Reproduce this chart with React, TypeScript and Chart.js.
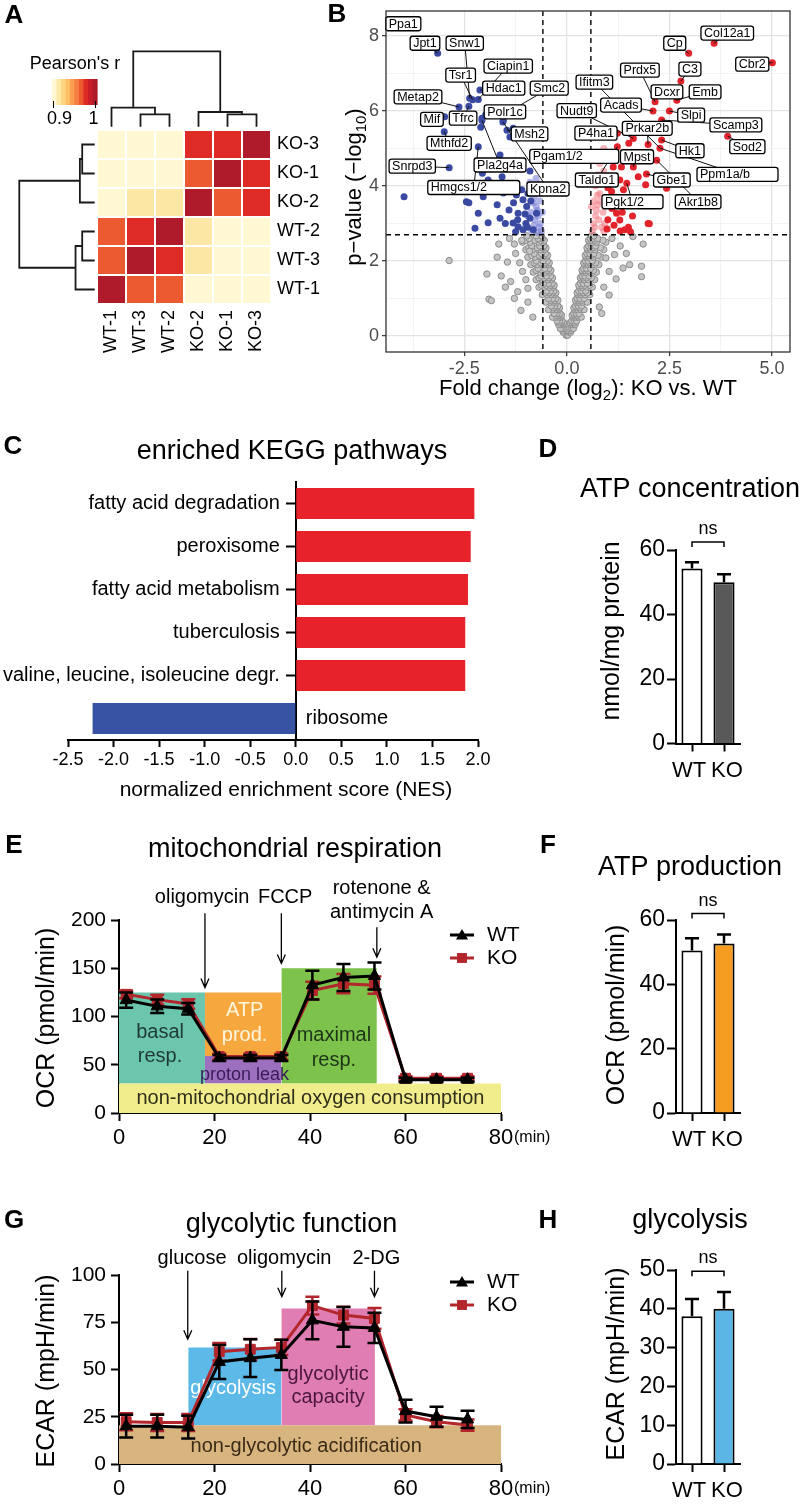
import React, { useEffect, useRef } from 'react';
import { Chart, registerables } from 'chart.js';

Chart.register(...registerables);

const FONT = '"Liberation Sans", Arial, Helvetica, sans-serif';
Chart.defaults.font.family = FONT;
Chart.defaults.color = '#000';

// ================= Panel A: sample correlation heatmap =================
const heatRows = ['KO-3', 'KO-1', 'KO-2', 'WT-2', 'WT-3', 'WT-1'];
const heatCols = ['WT-1', 'WT-3', 'WT-2', 'KO-2', 'KO-1', 'KO-3'];
const heatValues = [
  [0.905, 0.905, 0.905, 0.975, 0.975, 1.0],
  [0.905, 0.905, 0.905, 0.965, 1.0, 0.975],
  [0.905, 0.915, 0.915, 1.0, 0.965, 0.975],
  [0.965, 0.975, 1.0, 0.915, 0.905, 0.905],
  [0.965, 1.0, 0.975, 0.915, 0.905, 0.905],
  [1.0, 0.965, 0.965, 0.905, 0.905, 0.905],
];
const heatPalette = ['#fff8d2', '#fde7a4', '#fdd583', '#fdbd67', '#fc9d50', '#f77e40', '#ec5a31', '#de2b26', '#c81e27', '#b01b2b'];
const colorbarLabels = ['0.9', '1'];
// linkage: [childA, childB, height]; leaves 0..5 in display order, merges numbered from 6
const colLinkage = [[1, 2, 0.43], [4, 5, 0.43], [3, 7, 0.51], [0, 6, 0.66], [9, 8, 2.6]];
const rowLinkage = [[0, 1, 0.43], [3, 4, 0.43], [6, 2, 0.51], [7, 5, 0.66], [8, 9, 2.6]];

// ================= Panel B: volcano plot =================
const volcanoXTicks = [-3.75, -2.5, -1.25, 0, 1.25, 2.5, 3.75, 5];
const volcanoYTicks = [0, 1, 2, 3, 4, 5, 6, 7, 8];
const foldThreshold = 0.585;
const pThreshold = 2.7;
// rows: [p-value, fold changes...]
const grayRows = [
  [0.02, -0.02, 0.0, 0.02],
  [0.1, -0.05, -0.09, 0.05, 0.09],
  [0.15, -0.04, -0.1, 0.04, 0.1],
  [0.2, -0.07, -0.12, -0.16, 0.07, 0.12, 0.16],
  [0.3, -0.1, -0.15, -0.2, 0.1, 0.15, 0.2],
  [0.35, -0.08, -0.13, -0.18, 0.08, 0.13, 0.18],
  [0.4, -0.12, -0.18, -0.24, 0.12, 0.18, 0.24],
  [0.5, -0.15, -0.21, -0.28, -0.35, 0.15, 0.21, 0.28, 0.35],
  [0.55, -0.13, -0.19, -0.26, 0.13, 0.19, 0.25],
  [0.6, -0.17, -0.24, -0.31, 0.17, 0.23, 0.3],
  [0.7, -0.2, -0.27, -0.36, -0.45, 0.19, 0.26, 0.34, 0.42],
  [0.75, -0.18, -0.25, -0.33, 0.17, 0.24, 0.31],
  [0.8, -0.22, -0.3, -0.38, 0.21, 0.28, 0.36],
  [0.9, -0.25, -0.33, -0.42, -0.52, 0.23, 0.3, 0.39, 0.5],
  [0.95, -0.22, -0.3, -0.39, 0.21, 0.28, 0.36],
  [1.0, -0.27, -0.35, -0.45, 0.25, 0.32, 0.42],
  [1.1, -0.3, -0.38, -0.48, -0.6, 0.27, 0.34, 0.44, 0.56],
  [1.15, -0.27, -0.35, -0.44, -0.53, 0.25, 0.32, 0.4, 0.5],
  [1.2, -0.32, -0.4, -0.5, 0.29, 0.36, 0.46],
  [1.3, -0.34, -0.43, -0.55, -0.68, 0.31, 0.38, 0.48, 0.62],
  [1.35, -0.31, -0.4, -0.5, -0.62, 0.29, 0.36, 0.44, 0.55],
  [1.4, -0.36, -0.45, -0.57, 0.33, 0.4, 0.5],
  [1.5, -0.38, -0.47, -0.6, -0.75, 0.35, 0.42, 0.52, 0.68],
  [1.55, -0.35, -0.44, -0.55, -0.68, 0.33, 0.4, 0.48, 0.6],
  [1.6, -0.4, -0.5, -0.63, 0.37, 0.44, 0.54],
  [1.7, -0.42, -0.52, -0.66, -0.82, 0.39, 0.46, 0.56, 0.72],
  [1.75, -0.39, -0.48, -0.6, -0.75, 0.37, 0.44, 0.52, 0.65],
  [1.8, -0.44, -0.54, -0.7, 0.41, 0.48, 0.58],
  [1.9, -0.46, -0.56, -0.72, -0.88, 0.43, 0.5, 0.6, 0.78],
  [1.95, -0.43, -0.52, -0.64, -0.8, 0.41, 0.48, 0.56, 0.7],
  [2.0, -0.48, -0.58, -0.75, 0.45, 0.52, 0.62],
  [2.1, -0.5, -0.6, -0.78, -0.95, 0.47, 0.54, 0.64, 0.84],
  [2.15, -0.47, -0.56, -0.68, -0.86, 0.45, 0.52, 0.6, 0.76],
  [2.2, -0.52, -0.62, -0.8, 0.49, 0.56, 0.66],
  [2.3, -0.54, -0.64, -0.84, -1.0, 0.51, 0.58, 0.68, 0.9],
  [2.35, -0.51, -0.6, -0.72, -0.93, 0.49, 0.56, 0.64, 0.82],
  [2.4, -0.56, -0.66, -0.86, 0.53, 0.6, 0.7],
  [2.5, -0.58, -0.68, -0.9, -1.08, 0.55, 0.62, 0.72, 0.95],
  [2.55, -0.55, -0.64, -0.78, -1.0, 0.53, 0.6, 0.68, 0.88],
  [2.6, -0.6, -0.7, -0.92, 0.57, 0.64, 0.75],
  [2.67, -0.62, -0.75, -0.98, 0.6, 0.66],
];
const grayScatter = [
  [-2.87, 2.01], [-1.95, 1.65], [-1.9, 0.98], [-1.84, 0.94], [-1.7, 2.1], [-1.45, 1.97], [-1.66, 2.45], [-1.28, 2.45],
  [-1.12, 0.68], [-0.83, 0.5], [-1.37, 1.45], [-1.2, 1.18], [-0.95, 1.27], [-1.08, 1.72], [-0.91, 2.26], [-1.28, 1.0],
  [-1.5, 1.3], [-1.25, 2.2], [-1.0, 1.5], [-1.15, 1.95], [-0.95, 0.9], [-1.4, 2.6], [-1.6, 1.6], [-1.1, 2.55],
  [1.86, 2.45], [1.82, 1.86], [1.82, 1.58], [1.61, 2.65], [1.53, 1.9], [1.2, 1.52], [1.03, 1.09], [0.79, 0.77],
  [1.37, 1.81], [0.95, 2.08], [1.16, 2.17], [1.03, 1.72], [1.3, 2.4], [0.9, 1.3], [1.1, 2.6], [0.85, 0.6], [1.45, 2.2],
];
const bluePoints = [
  [-3.15, 7.54], [-3.95, 8.25], [-2.37, 6.34], [-2.3, 6.3], [-2.16, 6.31], [-2.12, 6.56], [-2.63, 6.11], [-2.39, 6.13],
  [-2.98, 5.85], [-2.99, 5.45], [-2.07, 5.81], [-2.1, 5.57], [-1.46, 5.49], [-1.31, 5.54], [-1.39, 5.31], [-2.16, 5.05],
  [-1.63, 4.83], [-2.87, 4.49], [-3.97, 3.71], [-1.58, 4.25], [-0.9, 4.4], [-1.98, 5.9], [-1.56, 5.71], [-1.55, 5.75],
  [-1.4, 5.99], [-2.07, 5.75], [-2.45, 3.58], [-2.39, 3.55], [-2.16, 3.27], [-2.04, 3.71], [-2.24, 2.87], [-1.92, 3.02],
  [-1.63, 3.14], [-1.41, 3.36], [-1.55, 3.81], [-1.23, 3.76], [-1.07, 3.63], [-0.98, 3.45], [-1.19, 3.27], [-1.31, 3.01],
  [-1.19, 2.91], [-1.07, 2.83], [-0.9, 3.14], [-0.82, 2.83], [-0.74, 3.27], [-1.39, 3.98], [-1.92, 4.16], [-2.06, 4.34],
  [-1.2, 3.1], [-1.0, 3.0], [-1.1, 3.9], [-0.95, 3.8], [-1.3, 3.55], [-1.5, 3.0], [-1.7, 3.5], [-1.02, 3.25],
  [-0.88, 3.6], [-1.25, 2.78], [-0.96, 2.9],
];
const lightBluePoints = [
  [-0.62, 2.8], [-0.65, 3.0], [-0.7, 3.2], [-0.75, 3.45], [-0.8, 3.7], [-0.85, 3.95], [-0.68, 2.9], [-0.72, 3.35],
  [-0.78, 3.1], [-0.82, 3.55], [-0.88, 3.3], [-0.66, 3.6], [-0.7, 2.75], [-0.9, 4.1], [-0.75, 4.2], [-0.8, 2.95],
  [-0.95, 3.2], [-0.63, 3.8], [-0.6, 3.3], [-0.73, 3.85], [-0.67, 4.05], [-0.86, 2.82],
];
const redPoints = [
  [3.59, 7.81], [2.97, 7.54], [5.01, 7.29], [2.78, 6.8], [2.68, 6.29], [2.15, 6.25], [2.1, 6.0], [2.5, 6.0],
  [3.92, 5.33], [2.31, 5.76], [1.62, 5.27], [1.51, 5.14], [1.98, 5.11], [2.31, 5.23], [2.27, 5.01], [1.23, 5.05],
  [1.17, 4.78], [1.13, 4.51], [1.33, 4.51], [1.29, 4.16], [1.46, 4.07], [1.94, 4.32], [1.92, 4.03], [1.74, 4.25],
  [2.43, 3.94], [2.19, 4.69], [1.62, 4.51], [1.98, 3.0], [1.21, 3.27], [1.29, 3.09], [1.41, 2.83], [1.09, 3.85],
  [1.05, 3.63], [1.25, 3.54], [1.23, 5.41], [1.0, 3.1], [1.15, 2.95], [1.3, 2.8], [1.5, 2.9], [1.35, 3.3],
  [1.1, 3.4], [1.45, 3.6], [1.6, 3.2], [1.2, 3.7], [1.0, 3.95], [1.38, 3.9], [1.55, 2.78], [0.98, 2.85], [2.01, 2.99],
];
const pinkPoints = [
  [0.62, 2.8], [0.65, 3.0], [0.7, 3.2], [0.75, 3.5], [0.8, 3.8], [0.85, 4.1], [0.9, 4.4], [0.95, 4.7],
  [0.68, 2.9], [0.72, 3.35], [0.78, 3.1], [0.82, 3.6], [0.88, 3.3], [0.92, 3.0], [0.66, 3.6], [0.7, 4.0],
  [0.9, 2.8], [0.76, 4.3], [0.85, 2.9], [0.95, 3.5], [0.8, 4.6], [0.9, 5.0], [0.6, 3.45], [0.74, 3.75], [0.98, 4.2],
];
// [gene, label x, label y, point x, point y, min box width]
const volcanoLabels: [string, number, number, number, number, number?][] = [
  ['Ppa1', -3.99, 8.33, -3.95, 8.25],
  ['Jpt1', -3.46, 7.81, -3.15, 7.54],
  ['Snw1', -2.49, 7.81, -2.37, 6.34],
  ['Tsr1', -2.59, 6.96, -2.3, 6.3],
  ['Ciapin1', -1.43, 7.2, -2.16, 6.31],
  ['Hdac1', -1.54, 6.61, -2.12, 6.56],
  ['Smc2', -0.43, 6.61, -1.4, 5.99],
  ['Metap2', -3.63, 6.38, -2.63, 6.11],
  ['Polr1c', -1.51, 5.98, -1.98, 5.9],
  ['Mif', -3.29, 5.78, -2.98, 5.85],
  ['Tfrc', -2.53, 5.81, -2.39, 6.13],
  ['Msh2', -0.91, 5.39, -1.46, 5.49],
  ['Mthfd2', -2.87, 5.14, -2.99, 5.45],
  ['Snrpd3', -3.77, 4.53, -2.87, 4.49],
  ['Pla2g4a', -1.63, 4.56, -2.07, 5.75],
  ['Hmgcs1/2', -2.27, 3.96, -2.16, 5.05, 92],
  ['Kpna2', -0.46, 3.92, -1.56, 5.71],
  ['Pgam1/2', 0.18, 4.79, 1.17, 4.78, 89],
  ['Col12a1', 3.91, 8.08, 3.59, 7.81],
  ['Cp', 2.63, 7.81, 2.97, 7.54],
  ['Cbr2', 4.52, 7.25, 5.01, 7.29],
  ['Prdx5', 1.78, 7.09, 2.15, 6.25],
  ['C3', 3.0, 7.12, 2.78, 6.8],
  ['Ifitm3', 0.67, 6.77, 2.27, 5.01],
  ['Dcxr', 2.44, 6.51, 2.68, 6.29],
  ['Emb', 3.37, 6.51, 2.68, 6.29],
  ['Acads', 1.32, 6.16, 2.1, 6.0],
  ['Nudt9', 0.24, 6.01, 1.62, 5.27],
  ['Slpi', 3.03, 5.89, 2.5, 6.0],
  ['Scamp3', 4.12, 5.63, 2.31, 5.76],
  ['Sod2', 4.4, 5.05, 3.92, 5.33],
  ['P4ha1', 0.71, 5.41, 1.23, 5.41],
  ['Prkar2b', 1.96, 5.54, 1.98, 5.11],
  ['Hk1', 3.0, 4.94, 2.31, 5.23],
  ['Mpst', 1.71, 4.78, 1.62, 4.51],
  ['Ppm1a/b', 4.16, 4.31, 2.27, 5.01, 81],
  ['Taldo1', 0.73, 4.16, 1.23, 5.05],
  ['Gbe1', 2.56, 4.16, 1.94, 4.32],
  ['Pgk1/2', 1.6, 3.58, 1.46, 4.07, 61],
  ['Akr1b8', 3.2, 3.58, 2.19, 4.69],
];

// ================= Panel C: KEGG =================
const keggPathways = ['fatty acid degradation', 'peroxisome', 'fatty acid metabolism', 'tuberculosis', 'valine, leucine, isoleucine degr.', 'ribosome'];
const keggNES = [1.96, 1.92, 1.89, 1.86, 1.86, -2.23];

// ================= Panels D, F, H =================
const groups = ['WT', 'KO'];
const atpConc = [54.3, 50.0];
const atpConcErr = [1.9, 2.5];
const atpProd = [50.5, 52.7];
const atpProdErr = [3.8, 2.8];
const glycolysis = [38.1, 40.0];
const glycolysisErr = [4.4, 4.3];

// ================= Panels E, G: Seahorse traces =================
const seahorseTimes = [1.5, 8, 14.5, 21, 27.5, 34, 40.5, 47, 53.5, 60, 66.5, 73];
const ocrWT = [117, 110.5, 108, 57, 57, 57, 132.5, 140.5, 142, 34.5, 34.5, 34.5];
const ocrKO = [123, 117.5, 113, 58.5, 58.5, 58.5, 127, 134, 132.5, 36, 36, 36];
const ocrWTErr = [8, 7, 6, 3, 3, 3, 15, 14, 14, 2, 2, 2];
const ocrKOErr = [4, 5, 5, 3, 3, 3, 9, 10, 9, 2, 2, 2];
const ecarWT = [20, 20, 19.5, 54, 56, 57.7, 76, 72.6, 72, 28, 25, 23.6];
const ecarKO = [22.4, 22, 22, 59.4, 60.7, 61.7, 83.8, 78.8, 77, 26, 22.4, 20.6];
const ecarWTErr = [6, 6, 6, 9, 10, 8, 10, 10.5, 8, 6, 5.3, 4.6];
const ecarKOErr = [4.5, 4.5, 4.5, 4.6, 5.5, 4, 4.7, 4.4, 5.5, 3, 3, 3];

const ocrRegionX0 = [0, 0, 18, 18, 34];
const ocrRegionX1 = [80, 18, 34, 34, 54];
const ocrRegionY0 = [0, 30.5, 59, 30.5, 30.5];
const ocrRegionY1 = [30.5, 125, 125, 59, 150];
const ocrInjections = ['oligomycin', 'FCCP', 'rotenone &|antimycin A'];
const ocrInjectAt = [18, 34, 54];
const ocrArrowSpan = [[207, 130], [207, 155], [192.5, 161.5]];

const ecarRegionX0 = [0, 14.5, 34];
const ecarRegionX1 = [80, 34, 53.6];
const ecarRegionY0 = [0, 20.5, 20.5];
const ecarRegionY1 = [20.5, 61.7, 82.3];
const ecarInjections = ['glucose', 'oligomycin', '2-DG'];
const ecarInjectAt = [14.4, 34.1, 53.5];
const ecarArrowSpan = [[102.3, 66], [102.3, 88.5], [102.3, 88.5]];

const KO_RED = '#b3262c';

// ================= helpers =================
type Part = [string, boolean];
interface Txt { t?: string; parts?: Part[]; x: number; y: number; size: number; bold?: boolean; rot?: boolean; align?: string; color?: string }

function drawText(ctx: CanvasRenderingContext2D, it: Txt) {
  const parts: Part[] = it.parts || [[it.t || '', false]];
  ctx.save();
  ctx.translate(it.x, it.y);
  if (it.rot) ctx.rotate(-Math.PI / 2);
  ctx.fillStyle = it.color || '#000';
  ctx.textBaseline = 'middle';
  ctx.textAlign = 'left';
  const font = (sub: boolean) => `${it.bold ? 'bold ' : ''}${sub ? Math.round(it.size * 0.68) : it.size}px ${FONT}`;
  const widths = parts.map(([s, sub]) => { ctx.font = font(sub); return ctx.measureText(s).width; });
  const total = widths.reduce((a, b) => a + b, 0);
  let x = it.align === 'left' ? 0 : it.align === 'right' ? -total : -total / 2;
  parts.forEach(([s, sub], i) => { ctx.font = font(sub); ctx.fillText(s, x, sub ? it.size * 0.3 : 0); x += widths[i]; });
  ctx.restore();
}
const textPlugin = (items: Txt[]) => ({ id: 'texts', afterDraw(chart: any) { items.forEach((it) => drawText(chart.ctx, it)); } });

const fit = (w?: number, h?: number) => (s: any) => {
  if (w !== undefined) s.width = w;
  if (h !== undefined) s.height = h;
  s.paddingLeft = 0; s.paddingRight = 0; s.paddingTop = 0; s.paddingBottom = 0;
};
const base = (padding: any) => ({
  responsive: false,
  animation: false as const,
  events: [] as any[],
  layout: { padding, autoPadding: false },
  plugins: { legend: { display: false }, tooltip: { enabled: false } },
});

function dendro(link: number[][], n: number) {
  const pos: number[] = []; const hgt: number[] = [];
  for (let i = 0; i < n; i++) { pos[i] = i; hgt[i] = 0; }
  const segs: { p: number; h: number }[][] = [];
  link.forEach(([a, b, h], k) => {
    segs.push([{ p: pos[a], h: hgt[a] }, { p: pos[a], h }, { p: pos[b], h }, { p: pos[b], h: hgt[b] }]);
    pos[n + k] = (pos[a] + pos[b]) / 2; hgt[n + k] = h;
  });
  return segs;
}
const heatColor = (v: number) => heatPalette[Math.min(heatPalette.length - 1, Math.max(0, Math.floor((v - 0.9) / 0.01 + 1e-6)))];

// ================= chart builders =================
function makeA(cv: HTMLCanvasElement) {
  const cells: any[] = []; const colors: string[] = [];
  heatValues.forEach((row, r) => row.forEach((v, c) => { cells.push({ x: c, y: r }); colors.push(heatColor(v)); }));
  const TOP_TIP = -0.61; const LEFT_TIP = -0.58;
  const lineDs = (pts: any[]) => ({ data: pts, showLine: true, borderColor: '#1a1a1a', borderWidth: 1.8, pointRadius: 0, tension: 0, fill: false });
  const datasets: any[] = [
    { data: cells, pointStyle: 'rect', pointRadius: 19.1, pointHoverRadius: 19.1, pointBackgroundColor: colors, pointBorderWidth: 0 },
    ...dendro(colLinkage, 6).map((seg) => lineDs(seg.map((p) => ({ x: p.p, y: TOP_TIP - p.h })))),
    ...dendro(rowLinkage, 6).map((seg) => lineDs(seg.map((p) => ({ x: LEFT_TIP - p.h, y: p.p })))),
  ];
  const heatPlugin = {
    id: 'heat',
    afterDraw(chart: any) {
      const { ctx, scales: { x, y } } = chart;
      ctx.save();
      ctx.fillStyle = '#000'; ctx.font = `18px ${FONT}`; ctx.textBaseline = 'middle'; ctx.textAlign = 'left';
      heatRows.forEach((n, r) => ctx.fillText(n, x.getPixelForValue(5.5) + 6, y.getPixelForValue(r)));
      heatCols.forEach((n, c) => {
        ctx.save(); ctx.translate(x.getPixelForValue(c), y.getPixelForValue(5.5) + 6); ctx.rotate(-Math.PI / 2);
        ctx.textAlign = 'right'; ctx.fillText(n, 0, 0); ctx.restore();
      });
      const bx0 = 52, bx1 = 97, by0 = 79, by1 = 105;
      const bw = (bx1 - bx0) / heatPalette.length;
      heatPalette.forEach((c, i) => { ctx.fillStyle = c; ctx.fillRect(bx0 + i * bw, by0, bw + 0.6, by1 - by0); });
      ctx.strokeStyle = '#000'; ctx.lineWidth = 1;
      [bx0 + 1.5, bx1 - 1.5].forEach((px) => { ctx.beginPath(); ctx.moveTo(px, by1 - 4); ctx.lineTo(px, by1 + 3); ctx.stroke(); });
      ctx.restore();
      drawText(ctx, { t: 'A', x: 14, y: 16, size: 26, bold: true });
      drawText(ctx, { t: "Pearson's r", x: 75, y: 64, size: 18 });
      drawText(ctx, { t: colorbarLabels[0], x: 59.5, y: 119, size: 18 });
      drawText(ctx, { t: colorbarLabels[1], x: 93.5, y: 119, size: 18 });
    },
  };
  return new Chart(cv, {
    type: 'scatter',
    data: { datasets },
    options: {
      ...base(0),
      scales: {
        // 29 px per cell; canvas is 320 x 372
        x: { type: 'linear', display: false, min: -3.845, max: 7.19 },
        y: { type: 'linear', display: false, reverse: true, min: -4.983, max: 7.845 },
      },
    } as any,
    plugins: [heatPlugin],
  });
}

function makeB(cv: HTMLCanvasElement) {
  const toXY = (a: number[][]) => a.map(([x, y]) => ({ x, y }));
  const grayPts = [...grayRows.flatMap(([y, ...xs]) => xs.map((x) => ({ x, y }))), ...toXY(grayScatter)];
  const isMajor = (v: number, step: number) => Math.abs(v / step - Math.round(v / step)) < 1e-6;
  const rr = (ctx: any, x: number, y: number, w: number, h: number, r: number) => {
    ctx.beginPath(); ctx.moveTo(x + r, y); ctx.lineTo(x + w - r, y); ctx.quadraticCurveTo(x + w, y, x + w, y + r);
    ctx.lineTo(x + w, y + h - r); ctx.quadraticCurveTo(x + w, y + h, x + w - r, y + h); ctx.lineTo(x + r, y + h);
    ctx.quadraticCurveTo(x, y + h, x, y + h - r); ctx.lineTo(x, y + r); ctx.quadraticCurveTo(x, y, x + r, y); ctx.closePath();
  };
  const volcanoPlugin = {
    id: 'volcano',
    afterDatasetsDraw(chart: any) {
      const { ctx, chartArea: ca, scales: { x, y } } = chart;
      ctx.save();
      ctx.strokeStyle = '#000'; ctx.lineWidth = 1.4; ctx.setLineDash([5, 4]);
      [-foldThreshold, foldThreshold].forEach((v) => { const px = x.getPixelForValue(v); ctx.beginPath(); ctx.moveTo(px, ca.top); ctx.lineTo(px, ca.bottom); ctx.stroke(); });
      const py = y.getPixelForValue(pThreshold);
      ctx.beginPath(); ctx.moveTo(ca.left, py); ctx.lineTo(ca.right, py); ctx.stroke();
      ctx.setLineDash([]);
      ctx.lineWidth = 1; ctx.strokeStyle = '#111';
      volcanoLabels.forEach(([, lx, ly, px2, py2]) => {
        ctx.beginPath(); ctx.moveTo(x.getPixelForValue(lx), y.getPixelForValue(ly)); ctx.lineTo(x.getPixelForValue(px2), y.getPixelForValue(py2)); ctx.stroke();
      });
      ctx.font = `12.5px ${FONT}`; ctx.textBaseline = 'middle'; ctx.textAlign = 'left';
      volcanoLabels.forEach(([n, lx, ly, , , w]) => {
        const cx = x.getPixelForValue(lx), cy = y.getPixelForValue(ly);
        const tw = ctx.measureText(n).width; const bw = Math.max(tw + 6, w || 0); const bh = 14;
        rr(ctx, cx - bw / 2, cy - bh / 2, bw, bh, 2.5);
        ctx.fillStyle = '#fff'; ctx.fill(); ctx.lineWidth = 1.3; ctx.strokeStyle = '#000'; ctx.stroke();
        ctx.fillStyle = '#000'; ctx.fillText(n, cx - bw / 2 + 3, cy + 0.5);
      });
      ctx.restore();
    },
    afterDraw(chart: any) {
      const { ctx, chartArea: ca } = chart;
      ctx.save(); ctx.strokeStyle = '#333'; ctx.lineWidth = 1.3;
      ctx.strokeRect(ca.left, ca.top, ca.right - ca.left, ca.bottom - ca.top);
      ctx.restore();
    },
  };
  const gridOpts = (step: number) => ({
    color: (c: any) => (c.tick && isMajor(c.tick.value, step) ? '#e3e3e3' : '#f0f0f0'),
    lineWidth: (c: any) => (c.tick && isMajor(c.tick.value, step) ? 1.3 : 0.8),
    tickLength: 4,
    tickColor: (c: any) => (c.tick && isMajor(c.tick.value, step) ? '#333' : 'rgba(0,0,0,0)'),
    tickWidth: 1.2,
  });
  return new Chart(cv, {
    type: 'scatter',
    data: {
      datasets: [
        { data: grayPts, pointRadius: 3.2, pointBackgroundColor: '#c4c4c4', pointBorderColor: '#8c8c8c', pointBorderWidth: 1, order: 5 },
        { data: toXY(lightBluePoints), pointRadius: 3.5, pointBackgroundColor: 'rgba(122,128,214,0.6)', pointBorderWidth: 0, order: 4 },
        { data: toXY(pinkPoints), pointRadius: 3.5, pointBackgroundColor: 'rgba(240,118,128,0.55)', pointBorderWidth: 0, order: 4 },
        { data: toXY(bluePoints), pointRadius: 3.5, pointBackgroundColor: '#3a4aa3', pointBorderWidth: 0, order: 3 },
        { data: toXY(redPoints), pointRadius: 3.5, pointBackgroundColor: '#e2232b', pointBorderWidth: 0, order: 3 },
      ],
    },
    options: {
      ...base({ left: 36, right: 10, top: 11, bottom: 28 }),
      scales: {
        x: {
          type: 'linear', min: -4.41, max: 5.44,
          afterBuildTicks: (s: any) => { s.ticks = volcanoXTicks.map((v) => ({ value: v })); },
          ticks: { autoSkip: false, maxRotation: 0, padding: 2, color: '#4d4d4d', font: { size: 18 }, callback: (v: any) => (isMajor(v, 2.5) ? Number(v).toFixed(1) : '') },
          grid: gridOpts(2.5), border: { display: false }, afterFit: fit(undefined, 25),
        },
        y: {
          type: 'linear', min: -0.43, max: 8.67,
          afterBuildTicks: (s: any) => { s.ticks = volcanoYTicks.map((v) => ({ value: v })); },
          ticks: { autoSkip: false, padding: 3, color: '#4d4d4d', font: { size: 18 }, callback: (v: any) => (isMajor(v, 2) ? String(v) : '') },
          grid: gridOpts(2), border: { display: false }, afterFit: fit(30),
        },
      },
    } as any,
    plugins: [volcanoPlugin, textPlugin([
      { t: 'B', x: 17, y: 15, size: 26, bold: true },
      { parts: [['Fold change (log', false], ['2', true], ['): KO vs. WT', false]], x: 268, y: 389, size: 22 },
      { parts: [['p\u2212value (\u2212log', false], ['10', true], [')', false]], x: 35, y: 187, size: 22, rot: true },
    ])],
  });
}

function makeC(cv: HTMLCanvasElement) {
  const keggPlugin = {
    id: 'kegg',
    afterDraw(chart: any) {
      const { ctx, scales: { x, y } } = chart;
      const x0 = x.getPixelForValue(0);
      ctx.save(); ctx.font = `20px ${FONT}`; ctx.fillStyle = '#000'; ctx.textBaseline = 'middle';
      keggPathways.forEach((n, i) => {
        const py = y.getPixelForValue(i);
        if (keggNES[i] >= 0) { ctx.textAlign = 'right'; ctx.fillText(n, x0 - 16, py); } else { ctx.textAlign = 'left'; ctx.fillText(n, x0 + 10, py); }
      });
      ctx.restore();
    },
  };
  return new Chart(cv, {
    type: 'bar',
    data: { labels: keggPathways, datasets: [{ data: keggNES, backgroundColor: keggNES.map((v) => (v > 0 ? '#e8222b' : '#3852a4')), borderWidth: 0, barPercentage: 0.72, categoryPercentage: 1 }] },
    options: {
      ...base({ left: 68, right: 52, top: 102, bottom: 20 }),
      indexAxis: 'y',
      scales: {
        x: {
          type: 'linear', min: -2.5, max: 2.0,
          ticks: { stepSize: 0.5, callback: (v: any) => Number(v).toFixed(1), font: { size: 18 }, color: '#000', padding: 2, maxRotation: 0, autoSkip: false },
          grid: { drawOnChartArea: false, tickLength: 7, tickColor: '#000', tickWidth: 2 },
          border: { color: '#000', width: 2 }, afterFit: fit(undefined, 40),
        },
        y: {
          type: 'category', position: { x: 0 },
          ticks: { display: false },
          grid: { drawOnChartArea: false, offset: false, tickLength: 9, tickWidth: 2, tickColor: (c: any) => (keggNES[c.index] > 0 ? '#000' : 'rgba(0,0,0,0)') },
          border: { color: '#000', width: 2 },
        },
      },
    } as any,
    plugins: [keggPlugin, textPlugin([
      { t: 'C', x: 13, y: 67, size: 26, bold: true },
      { t: 'enriched KEGG pathways', x: 292, y: 72, size: 27 },
      { t: 'normalized enrichment score (NES)', x: 286, y: 410, size: 21 },
    ])],
  });
}

function makeBar(cv: HTMLCanvasElement, o: any) {
  const barExtras = {
    id: 'barExtras',
    afterDatasetsDraw(chart: any) {
      const { ctx, chartArea: ca, scales: { y } } = chart;
      const meta = chart.getDatasetMeta(0);
      ctx.save(); ctx.strokeStyle = '#000'; ctx.lineWidth = 2.5;
      meta.data.forEach((bar: any, i: number) => {
        const x = bar.x; const y0 = y.getPixelForValue(o.values[i]); const y1 = y.getPixelForValue(o.values[i] + o.errors[i]);
        ctx.beginPath(); ctx.moveTo(x, y0); ctx.lineTo(x, y1); ctx.moveTo(x - 7, y1); ctx.lineTo(x + 7, y1); ctx.stroke();
      });
      const xa = meta.data[0].x, xb = meta.data[1].x, yb = y.getPixelForValue(o.bracket);
      ctx.lineWidth = 1.5;
      ctx.beginPath(); ctx.moveTo(xa, yb + 5); ctx.lineTo(xa, yb); ctx.lineTo(xb, yb); ctx.lineTo(xb, yb + 5); ctx.stroke();
      ctx.restore();
      drawText(ctx, { t: 'ns', x: (xa + xb) / 2, y: yb - 13, size: 18 });
      // group labels, nudged apart so they do not touch
      groups.forEach((g, i) => drawText(ctx, { t: g, x: meta.data[i].x + (i === 0 ? -3 : 3), y: ca.bottom + 27, size: 22 }));
    },
  };
  return new Chart(cv, {
    type: 'bar',
    data: { labels: groups, datasets: [{ data: o.values, backgroundColor: ['#ffffff', o.koColor], borderColor: '#000', borderWidth: 2, barPercentage: 0.66, categoryPercentage: 1 }] },
    options: {
      ...base(o.padding),
      scales: {
        x: {
          type: 'category',
          grid: { offset: false, drawOnChartArea: false, tickLength: 8, tickColor: '#000', tickWidth: 2 },
          border: { color: '#000', width: 2 },
          ticks: { callback: () => '', autoSkip: false, maxRotation: 0, minRotation: 0 },
          afterFit: fit(undefined, 40),
        },
        y: {
          type: 'linear', min: 0, max: o.max,
          ticks: { stepSize: o.step, font: { size: 23 }, color: '#000', padding: 2 },
          grid: { drawOnChartArea: false, tickLength: 9, tickColor: '#000', tickWidth: 2 },
          border: { color: '#000', width: 2 },
          afterFit: fit(40),
        },
      },
    } as any,
    plugins: [barExtras, textPlugin(o.texts)],
  });
}

function drawMarker(ctx: any, style: string, x: number, y: number, r: number) {
  ctx.beginPath();
  if (style === 'triangle') {
    ctx.moveTo(x, y - r); ctx.lineTo(x + 0.866 * r, y + 0.5 * r); ctx.lineTo(x - 0.866 * r, y + 0.5 * r); ctx.closePath();
  } else {
    const s = Math.SQRT1_2 * r; ctx.rect(x - s, y - s, 2 * s, 2 * s);
  }
  ctx.fill();
}

function makeSeahorse(cv: HTMLCanvasElement, o: any) {
  const pts = (vals: number[]) => seahorseTimes.map((t, i) => ({ x: t, y: vals[i] }));
  const regions = o.x0.map((x0: number, i: number) => ({
    data: [{ x: x0, y: o.y1[i] }, { x: o.x1[i], y: o.y1[i] }],
    fill: { value: o.y0[i] }, backgroundColor: o.colors[i], borderColor: 'rgba(0,0,0,0)', borderWidth: 0, pointRadius: 0, tension: 0, order: 10,
  }));
  const plugin = {
    id: 'seahorse',
    afterDatasetDraw(chart: any, args: any) {
      const { ctx, scales: { x, y } } = chart;
      if (args.index === 0 || args.index === 1) {
        const vals = args.index === 0 ? o.wt : o.ko; const errs = args.index === 0 ? o.wtErr : o.koErr;
        ctx.save(); ctx.strokeStyle = args.index === 0 ? '#000' : KO_RED; ctx.lineWidth = 2.5;
        seahorseTimes.forEach((t, i) => {
          const px = x.getPixelForValue(t); const top = y.getPixelForValue(vals[i] + errs[i]); const bot = y.getPixelForValue(vals[i] - errs[i]);
          ctx.beginPath(); ctx.moveTo(px, top); ctx.lineTo(px, bot);
          ctx.moveTo(px - 7, top); ctx.lineTo(px + 7, top); ctx.moveTo(px - 7, bot); ctx.lineTo(px + 7, bot); ctx.stroke();
        });
        ctx.restore();
      }
      if (args.index === 2) {
        o.regionText.forEach(([t, tx, ty, color, size]: any) => drawText(ctx, { t, x: x.getPixelForValue(tx), y: y.getPixelForValue(ty), size, color }));
      }
    },
    afterDraw(chart: any) {
      const { ctx, scales: { x, y } } = chart;
      ctx.save(); ctx.strokeStyle = '#000'; ctx.lineWidth = 1.3;
      o.injectAt.forEach((t: number, i: number) => {
        const px = x.getPixelForValue(t); const y0 = y.getPixelForValue(o.arrowSpan[i][0]); const y1 = y.getPixelForValue(o.arrowSpan[i][1]);
        ctx.beginPath(); ctx.moveTo(px, y0); ctx.lineTo(px, y1); ctx.moveTo(px - 4, y1 - 9); ctx.lineTo(px, y1); ctx.lineTo(px + 4, y1 - 9); ctx.stroke();
      });
      ctx.restore();
      o.injections.forEach((name: string, i: number) => {
        const lines = name.split('|');
        const [lx, ly] = o.injectLabelAt[i];
        lines.forEach((ln: string, k: number) => drawText(ctx, { t: ln, x: x.getPixelForValue(lx), y: y.getPixelForValue(ly) + k * 23.5, size: 20 }));
      });
      // legend
      [['WT', '#000', 'triangle', o.legendY[0]], ['KO', KO_RED, 'rect', o.legendY[1]]].forEach(([lab, col, st, ly]: any) => {
        ctx.save(); ctx.strokeStyle = col; ctx.fillStyle = col; ctx.lineWidth = 3;
        ctx.beginPath(); ctx.moveTo(450, ly); ctx.lineTo(474, ly); ctx.stroke();
        drawMarker(ctx, st, 462, ly + (st === 'triangle' ? 1 : 0), 7);
        ctx.restore();
        drawText(ctx, { t: lab, x: 487, y: ly, size: 21, align: 'left' });
      });
    },
  };
  return new Chart(cv, {
    type: 'line',
    data: {
      datasets: [
        { data: pts(o.wt), borderColor: '#000', borderWidth: 3, pointStyle: 'triangle', pointRadius: 7, pointBackgroundColor: '#000', pointBorderColor: '#000', pointBorderWidth: 1, tension: 0, fill: false, order: 1 },
        { data: pts(o.ko), borderColor: KO_RED, borderWidth: 3, pointStyle: 'rect', pointRadius: 7, pointBackgroundColor: KO_RED, pointBorderColor: KO_RED, pointBorderWidth: 1, tension: 0, fill: false, order: 2 },
        ...regions,
      ],
    },
    options: {
      ...base(o.padding),
      scales: {
        x: {
          type: 'linear', min: 0, max: 80,
          ticks: { stepSize: 20, font: { size: 22 }, color: '#000', padding: 4, maxRotation: 0 },
          grid: { drawOnChartArea: false, tickLength: 8, tickColor: '#000', tickWidth: 2 },
          border: { color: '#000', width: 2 }, afterFit: fit(undefined, 35),
        },
        y: {
          type: 'linear', min: 0, max: o.max,
          ticks: { stepSize: o.step, font: { size: 21 }, color: '#000', padding: 5 },
          grid: { drawOnChartArea: false, tickLength: 8, tickColor: '#000', tickWidth: 2 },
          border: { color: '#000', width: 2 }, afterFit: fit(70),
        },
      },
    } as any,
    plugins: [plugin, textPlugin(o.texts)],
  });
}

export default function App() {
  const rA = useRef<HTMLCanvasElement>(null);
  const rB = useRef<HTMLCanvasElement>(null);
  const rC = useRef<HTMLCanvasElement>(null);
  const rD = useRef<HTMLCanvasElement>(null);
  const rE = useRef<HTMLCanvasElement>(null);
  const rF = useRef<HTMLCanvasElement>(null);
  const rG = useRef<HTMLCanvasElement>(null);
  const rH = useRef<HTMLCanvasElement>(null);

  useEffect(() => {
    const charts: Chart[] = [];
    charts.push(makeA(rA.current!));
    charts.push(makeB(rB.current!));
    charts.push(makeC(rC.current!));
    charts.push(makeBar(rD.current!, {
      values: atpConc, errors: atpConcErr, koColor: '#595959', max: 60, step: 20, bracket: 62.5,
      padding: { left: 101, right: 60, top: 170, bottom: 16.5 },
      texts: [
        { t: 'D', x: 13, y: 70, size: 26, bold: true },
        { t: 'ATP concentration', x: 155, y: 110, size: 27 },
        { t: 'nmol/mg protein', x: 77, y: 251, size: 25, rot: true },
      ],
    }));
    charts.push(makeSeahorse(rE.current!, {
      wt: ocrWT, ko: ocrKO, wtErr: ocrWTErr, koErr: ocrKOErr, max: 200, step: 50,
      x0: ocrRegionX0, x1: ocrRegionX1, y0: ocrRegionY0, y1: ocrRegionY1,
      colors: ['#f2ed8c', '#6cc5ad', '#f6a83e', '#9d6fbf', '#7dc24b'],
      regionText: [
        ['non-mitochondrial oxygen consumption', 40.1, 15.2, '#2e2e1a', 20],
        ['basal', 8.6, 83.3, '#1e3a33', 20], ['resp.', 8.6, 58.3, '#1e3a33', 20],
        ['ATP', 26.3, 106.6, '#fff6df', 20], ['prod.', 26.3, 80.7, '#fff6df', 20],
        ['proton leak', 26.3, 39.3, '#3a1d58', 18],
        ['maximal', 45, 80, '#1c3318', 20], ['resp.', 45, 54, '#1c3318', 20],
      ],
      injections: ocrInjections, injectAt: ocrInjectAt, arrowSpan: ocrArrowSpan,
      injectLabelAt: [[17.4, 223], [34.8, 223], [55, 232.6]],
      legendY: [135, 158],
      padding: { left: 49, right: 64, top: 120, bottom: 12 },
      texts: [
        { t: 'E', x: 14, y: 46, size: 26, bold: true },
        { t: 'mitochondrial respiration', x: 295, y: 50, size: 27 },
        { t: 'OCR (pmol/min)', x: 47, y: 218, size: 25, rot: true },
        { t: '(min)', x: 514, y: 338, size: 16, align: 'left' },
      ],
    }));
    charts.push(makeBar(rF.current!, {
      values: atpProd, errors: atpProdErr, koColor: '#f39c1f', max: 60, step: 20, bracket: 62,
      padding: { left: 101, right: 60, top: 120, bottom: 7 },
      texts: [
        { t: 'F', x: 13, y: 46, size: 26, bold: true },
        { t: 'ATP production', x: 155, y: 68, size: 27 },
        { t: 'OCR (pmol/min)', x: 82, y: 215, size: 25, rot: true },
      ],
    }));
    charts.push(makeSeahorse(rG.current!, {
      wt: ecarWT, ko: ecarKO, wtErr: ecarWTErr, koErr: ecarKOErr, max: 100, step: 25,
      x0: ecarRegionX0, x1: ecarRegionX1, y0: ecarRegionY0, y1: ecarRegionY1,
      colors: ['#d8b47f', '#5cb9e8', '#e07db3'],
      regionText: [
        ['non-glycolytic acidification', 39.2, 9.2, '#3b2b16', 20],
        ['glycolysis', 23.9, 39.7, '#ffffff', 20],
        ['glycolytic', 43.8, 47.6, '#4a1640', 20], ['capacity', 43.8, 35, '#4a1640', 20],
      ],
      injections: ecarInjections, injectAt: ecarInjectAt, arrowSpan: ecarArrowSpan,
      injectLabelAt: [[15.3, 108.5], [34.6, 108.5], [53.9, 108.5]],
      legendY: [112, 135],
      padding: { left: 49, right: 64, top: 105, bottom: 7 },
      texts: [
        { t: 'G', x: 14, y: 51, size: 26, bold: true },
        { t: 'glycolytic function', x: 291.5, y: 55, size: 27 },
        { t: 'ECAR (mpH/min)', x: 47.5, y: 201, size: 25, rot: true },
        { t: '(min)', x: 514, y: 319, size: 16, align: 'left' },
      ],
    }));
    charts.push(makeBar(rH.current!, {
      values: glycolysis, errors: glycolysisErr, koColor: '#5bb5e5', max: 50, step: 10, bracket: 49.7,
      padding: { left: 101, right: 60, top: 100, bottom: 2 },
      texts: [
        { t: 'H', x: 13, y: 51, size: 26, bold: true },
        { t: 'glycolysis', x: 155, y: 51, size: 27 },
        { t: 'ECAR (mpH/min)', x: 82, y: 194, size: 25, rot: true },
      ],
    }));
    return () => charts.forEach((c) => c.destroy());
  }, []);

  const pos = (left: number, top: number) => ({ position: 'absolute' as const, left, top });
  return (
    <div style={{ position: 'absolute', left: 0, top: 0, width: 800, height: 1506, background: '#fff', overflow: 'hidden' }}>
      <canvas ref={rA} width={320} height={372} style={pos(0, 0)} />
      <canvas ref={rB} width={480} height={405} style={pos(320, 0)} />
      <canvas ref={rC} width={530} height={420} style={pos(0, 380)} />
      <canvas ref={rD} width={265} height={420} style={pos(535, 380)} />
      <canvas ref={rE} width={565} height={360} style={pos(0, 800)} />
      <canvas ref={rF} width={265} height={360} style={pos(535, 800)} />
      <canvas ref={rG} width={565} height={336} style={pos(0, 1170)} />
      <canvas ref={rH} width={265} height={336} style={pos(535, 1170)} />
    </div>
  );
}
